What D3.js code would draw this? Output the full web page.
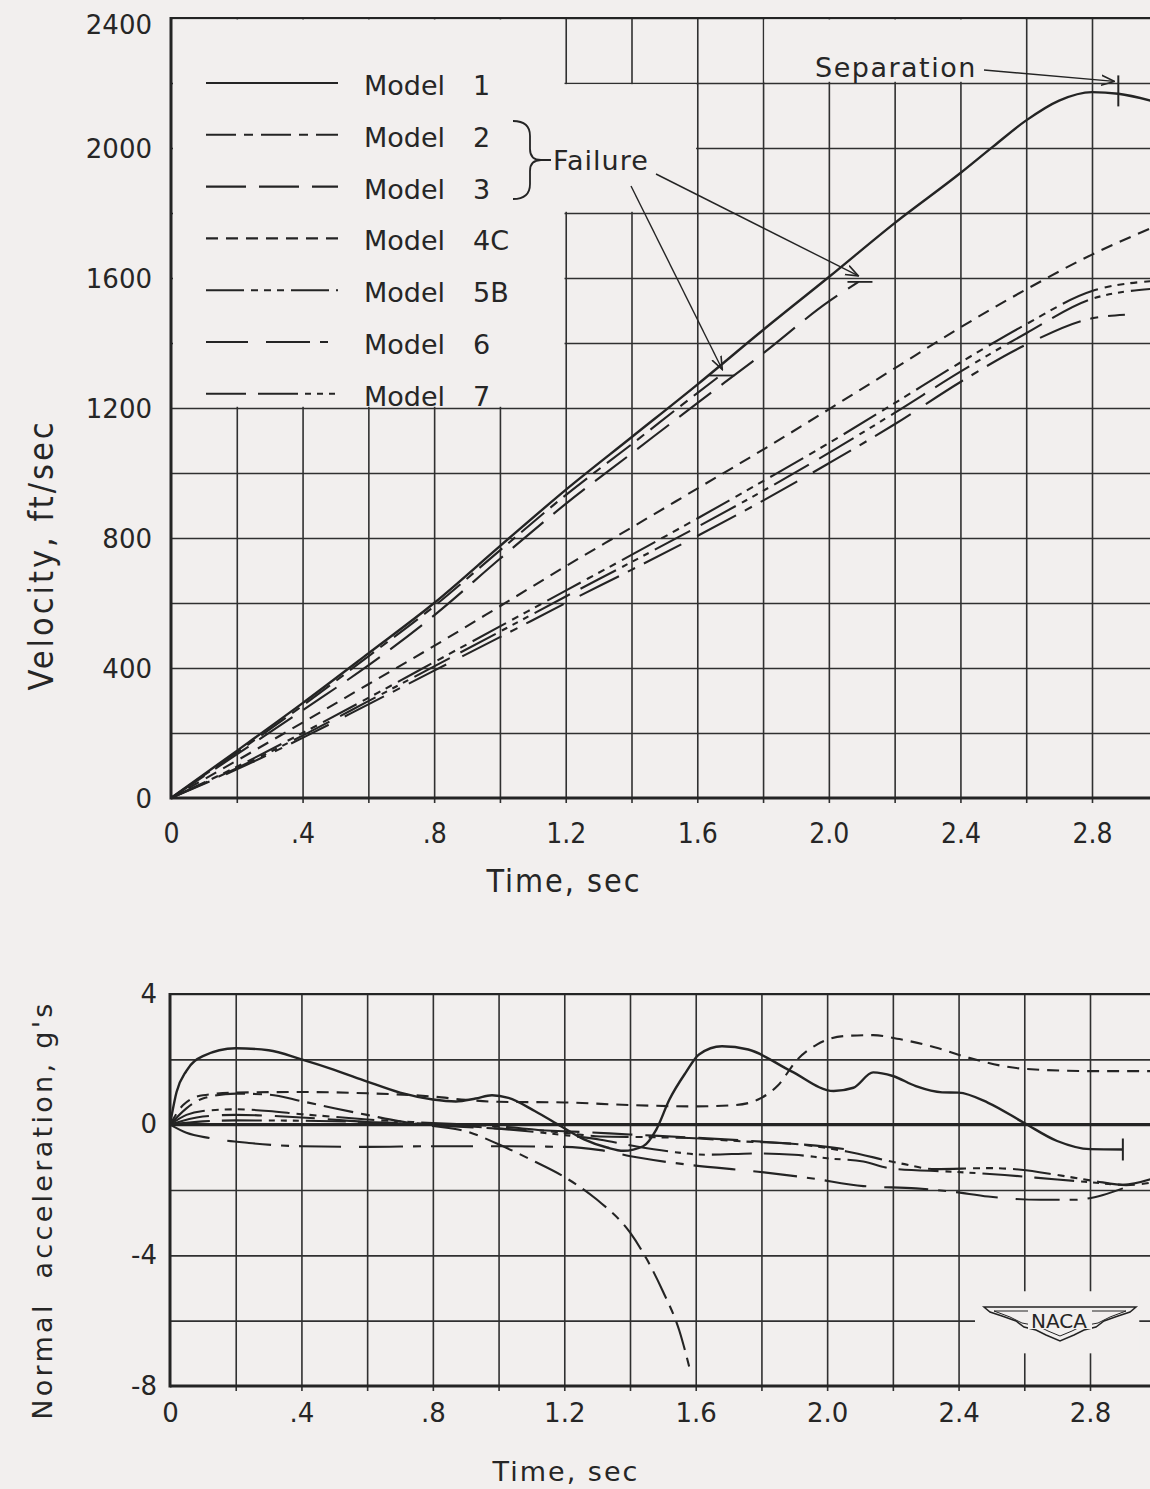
<!DOCTYPE html>
<html>
<head>
<meta charset="utf-8">
<script src="https://cdn.jsdelivr.net/npm/d3@7"></script>
<style>
  html, body { margin: 0; padding: 0; background: #f2efee; }
  svg { display: block; }
  text { fill: #262626; font-family: "DejaVu Sans", sans-serif; }
  .narrow { font-family: "DejaVu Sans Condensed", "DejaVu Sans", sans-serif; font-stretch: condensed; }
</style>
</head>
<body>
<div id="chart"></div>
<script>
/* DATA */
const modelNames = ["Model 1", "Model 2", "Model 3", "Model 4C", "Model 5B", "Model 6", "Model 7"];

const timeTicks = [0, 0.4, 0.8, 1.2, 1.6, 2.0, 2.4, 2.8];
const timeTickLabels = ["0", ".4", ".8", "1.2", "1.6", "2.0", "2.4", "2.8"];
const velTicks = [0, 400, 800, 1200, 1600, 2000, 2400];
const accTicks = [-8, -4, 0, 4];
const accTickLabels = ["-8", "-4", "0", "4"];

// velocity, ft/sec  [time, value]
const velModel1 = [[0,0],[0.2,145],[0.4,292],[0.6,445],[0.8,600],[1.0,775],[1.2,948],[1.4,1110],[1.6,1272],[1.8,1440],[2.0,1603],[2.2,1769],[2.4,1923],[2.5,2005],[2.6,2085],[2.7,2146],[2.8,2172],[2.88,2167],[3.0,2140]];
const velModel2 = [[0,0],[0.2,140],[0.4,284],[0.6,436],[0.8,590],[1.0,762],[1.2,932],[1.4,1088],[1.6,1246],[1.67,1300]];
const velModel3 = [[0,0],[0.2,134],[0.4,270],[0.6,408],[0.8,562],[1.0,736],[1.2,905],[1.4,1060],[1.6,1215],[1.8,1368],[2.0,1528],[2.09,1588]];
const velModel4C = [[0,0],[0.2,115],[0.4,232],[0.6,350],[0.8,468],[1.0,590],[1.2,713],[1.4,832],[1.6,952],[1.8,1072],[2.0,1196],[2.2,1322],[2.4,1448],[2.6,1565],[2.8,1672],[3.0,1762]];
const velModel5B = [[0,0],[0.2,96],[0.4,200],[0.6,308],[0.8,418],[1.0,528],[1.2,638],[1.4,748],[1.6,860],[1.8,975],[2.0,1092],[2.2,1215],[2.4,1340],[2.6,1458],[2.8,1560],[3.0,1592]];
const velModel6 = [[0,0],[0.2,88],[0.4,185],[0.6,288],[0.8,392],[1.0,495],[1.2,600],[1.4,702],[1.6,806],[1.8,915],[2.0,1030],[2.2,1150],[2.4,1280],[2.6,1395],[2.8,1476],[2.9,1487]];
const velModel7 = [[0,0],[0.2,92],[0.4,192],[0.6,298],[0.8,405],[1.0,512],[1.2,620],[1.4,726],[1.6,834],[1.8,945],[2.0,1062],[2.2,1185],[2.4,1312],[2.6,1430],[2.8,1536],[3.0,1568]];

// normal acceleration, g's  [time, value]
const accModel1 = [[0,0],[0.02,1.0],[0.05,1.65],[0.1,2.1],[0.2,2.34],[0.3,2.28],[0.4,2.0],[0.5,1.68],[0.6,1.32],[0.7,0.98],[0.8,0.77],[0.87,0.71],[0.93,0.8],[0.98,0.9],[1.03,0.82],[1.11,0.42],[1.19,-0.05],[1.26,-0.45],[1.33,-0.7],[1.38,-0.8],[1.44,-0.66],[1.48,-0.15],[1.52,0.77],[1.57,1.6],[1.61,2.15],[1.68,2.4],[1.76,2.3],[1.89,1.64],[2.02,1.03],[2.08,1.13],[2.14,1.6],[2.2,1.49],[2.27,1.18],[2.35,0.99],[2.4,0.98],[2.49,0.67],[2.6,0.05],[2.7,-0.5],[2.8,-0.75],[2.9,-0.76]];
const accModel2 = [[0,0],[0.05,0.5],[0.1,0.8],[0.2,0.95],[0.3,0.92],[0.4,0.72],[0.5,0.5],[0.6,0.3],[0.7,0.1],[0.8,-0.04],[0.9,-0.2],[1.0,-0.6],[1.1,-1.08],[1.2,-1.6],[1.3,-2.3],[1.4,-3.3],[1.45,-4.1],[1.5,-5.1],[1.55,-6.3],[1.58,-7.4]];
const accModel3 = [[0,0],[0.1,0.25],[0.2,0.3],[0.4,0.22],[0.6,0.08],[0.8,-0.02],[1.0,-0.12],[1.2,-0.2],[1.4,-0.3],[1.6,-0.4],[1.8,-0.52],[2.0,-0.68],[2.09,-0.8]];
const accModel4C = [[0,0],[0.04,0.6],[0.1,0.9],[0.2,0.98],[0.4,1.0],[0.6,0.96],[0.8,0.86],[0.9,0.76],[1.0,0.7],[1.2,0.68],[1.4,0.6],[1.6,0.56],[1.72,0.6],[1.79,0.77],[1.85,1.2],[1.91,2.0],[1.97,2.46],[2.06,2.72],[2.14,2.74],[2.22,2.62],[2.33,2.36],[2.43,2.05],[2.59,1.72],[2.8,1.64],[3.0,1.64]];
const accModel5B = [[0,0],[0.05,0.3],[0.1,0.42],[0.2,0.47],[0.3,0.42],[0.4,0.32],[0.5,0.24],[0.6,0.16],[0.8,0.05],[1.0,-0.05],[1.2,-0.25],[1.31,-0.36],[1.45,-0.38],[1.58,-0.41],[1.74,-0.51],[1.93,-0.62],[2.06,-0.82],[2.22,-1.18],[2.33,-1.36],[2.49,-1.33],[2.59,-1.38],[2.7,-1.54],[2.81,-1.72],[2.91,-1.85],[3.0,-1.75]];
const accModel6 = [[0,0],[0.05,-0.25],[0.12,-0.41],[0.24,-0.56],[0.4,-0.66],[0.6,-0.68],[0.8,-0.66],[1.0,-0.66],[1.2,-0.68],[1.31,-0.78],[1.42,-1.0],[1.58,-1.23],[1.79,-1.44],[1.95,-1.64],[2.11,-1.88],[2.27,-1.95],[2.38,-2.05],[2.49,-2.2],[2.65,-2.3],[2.75,-2.3],[2.84,-2.15],[2.9,-1.95]];
const accModel7 = [[0,0],[0.1,0.1],[0.2,0.13],[0.4,0.12],[0.6,0.08],[0.8,0.02],[1.0,-0.12],[1.2,-0.32],[1.31,-0.46],[1.42,-0.67],[1.52,-0.82],[1.63,-0.92],[1.79,-0.88],[1.9,-0.92],[2.0,-1.03],[2.11,-1.13],[2.2,-1.35],[2.38,-1.44],[2.54,-1.54],[2.7,-1.68],[2.8,-1.76],[2.9,-1.84],[3.0,-1.62]];

const velSeries = [velModel1, velModel2, velModel3, velModel4C, velModel5B, velModel6, velModel7];
const accSeries = [accModel1, accModel2, accModel3, accModel4C, accModel5B, accModel6, accModel7];

// annotation points (time, value)
const separationPoint = [2.88, 2168];
const failurePoints = [[1.67, 1300], [2.09, 1588]];

/* STYLES */
const ink = "#242424";
const bg = "#f2efee";
const dashes = [null, "30,8,9,8", "40,13", "12,8", "38,7,7,6,7,6,7,7", "42,18,44,10,8,10", "40,12,40,7,6,6,6,6,6,7"];

const W = 1150, H = 1489;
const svg = d3.select("#chart").append("svg").attr("width", W).attr("height", H);

svg.append("defs").append("marker")
  .attr("id", "arrow")
  .attr("viewBox", "0 -6 14 12")
  .attr("refX", 13).attr("refY", 0)
  .attr("markerWidth", 14).attr("markerHeight", 12)
  .attr("markerUnits", "userSpaceOnUse")
  .attr("orient", "auto")
  .append("path")
  .attr("d", "M0,-5L13,0L0,5")
  .attr("fill", "none").attr("stroke", ink).attr("stroke-width", 1.6);

const lineGen = (x, y) => d3.line().x(d => x(d[0])).y(d => y(d[1])).curve(d3.curveMonotoneX);

function gridPanel(g, x, y, yTop, yBottom, vTicks, hTicks) {
  // vertical grid (with little ticks under the axis)
  g.append("g")
    .attr("transform", `translate(0,${yBottom + 5})`)
    .call(d3.axisBottom(x).tickValues(vTicks).tickSize(-(yBottom + 5 - yTop)).tickFormat(""))
    .call(a => a.select(".domain").remove())
    .selectAll("line").attr("stroke", "#303030").attr("stroke-width", 1.6);
  // horizontal grid
  g.append("g")
    .attr("transform", `translate(${x(0)},0)`)
    .call(d3.axisLeft(y).tickValues(hTicks).tickSize(-(W - x(0))).tickFormat(""))
    .call(a => a.select(".domain").remove())
    .selectAll("line").attr("stroke", "#303030").attr("stroke-width", 1.6);
}

function mask(g, x0, y0, x1, y1) {
  g.append("rect").attr("x", x0).attr("y", y0).attr("width", x1 - x0).attr("height", y1 - y0).attr("fill", bg);
}

/* ---------- TOP PANEL: velocity ---------- */
const xV = d3.scaleLinear().domain([0, 2.8]).range([171, 1092]);
const yV = d3.scaleLinear().domain([0, 2400]).range([798, 18]);
const topG = svg.append("g");

gridPanel(topG, xV, yV, yV(2400), yV(0), d3.range(0.2, 3.01, 0.2), d3.range(200, 2401, 200));

// blank areas of the grid paper (legend, "Failure", "Separation")
mask(topG, xV(0) + 2, yV(2400) + 1.5, xV(1.2) - 1.2, yV(1200) - 1.2);
mask(topG, xV(1.1), yV(2200) + 1.2, xV(1.6) - 1.2, yV(1800) - 1.2);
mask(topG, xV(1.8) + 1.2, yV(2400) + 1.5, xV(2.6) - 1.2, yV(2200) - 1.2);

// frame
topG.append("line").attr("x1", xV(0)).attr("x2", W).attr("y1", yV(2400)).attr("y2", yV(2400)).attr("stroke", ink).attr("stroke-width", 2.2);
topG.append("line").attr("x1", xV(0)).attr("x2", W).attr("y1", yV(0)).attr("y2", yV(0)).attr("stroke", ink).attr("stroke-width", 3.2);
topG.append("line").attr("x1", xV(0)).attr("x2", xV(0)).attr("y1", yV(2400) - 1).attr("y2", yV(0) + 1.5).attr("stroke", ink).attr("stroke-width", 3);

// axes labels
topG.append("g")
  .attr("transform", `translate(0,${yV(0)})`)
  .call(d3.axisBottom(xV).tickValues(timeTicks).tickSize(0).tickPadding(25).tickFormat((d, i) => timeTickLabels[i]))
  .call(a => a.select(".domain").remove())
  .selectAll("text").attr("class", "narrow").style("font-size", "28px");

topG.append("g")
  .attr("transform", `translate(${xV(0)},0)`)
  .call(d3.axisLeft(yV).tickValues(velTicks).tickSize(0).tickPadding(19).tickFormat(d3.format("d")))
  .call(a => a.select(".domain").remove())
  .selectAll("text").style("font-size", "26px")
  .attr("dy", d => d === 2400 ? "0.6em" : "0.35em");

topG.append("text").attr("class", "narrow")
  .attr("x", 564).attr("y", 892).attr("text-anchor", "middle")
  .style("font-size", "32px").style("letter-spacing", "2px").text("Time, sec");

topG.append("text").attr("class", "narrow")
  .attr("transform", "translate(53,555) rotate(-90)").attr("text-anchor", "middle")
  .style("font-size", "34px").style("letter-spacing", "3px").text("Velocity, ft/sec");

// curves
const lineV = lineGen(xV, yV);
topG.append("clipPath").attr("id", "clipTop").append("rect")
  .attr("x", xV(0)).attr("y", 0).attr("width", W - xV(0)).attr("height", yV(0));
topG.append("g").attr("clip-path", "url(#clipTop)")
  .selectAll("path").data(velSeries).join("path")
  .attr("d", d => lineV(d))
  .attr("fill", "none").attr("stroke", ink)
  .attr("stroke-width", (d, i) => i === 0 ? 2.4 : 2.1)
  .attr("stroke-dasharray", (d, i) => dashes[i]);

// legend
const legend = topG.append("g");
modelNames.forEach((name, i) => {
  const ly = 83 + i * 51.8;
  legend.append("line").attr("x1", 206).attr("x2", 338).attr("y1", ly).attr("y2", ly)
    .attr("stroke", ink).attr("stroke-width", 2.1).attr("stroke-dasharray", dashes[i]);
  const parts = name.split(" ");
  const t = legend.append("text").attr("y", ly + 12).style("font-size", "27px");
  t.append("tspan").attr("x", 364).text(parts[0] + " ");
  t.append("tspan").attr("x", 473).text(parts[1]);
});

// "Failure" bracket and label
topG.append("path")
  .attr("d", "M513,121 Q530,121 530,136 L530,149 Q530,160 541,160 Q530,160 530,171 L530,184 Q530,199 513,199 M541,160 L551,160")
  .attr("fill", "none").attr("stroke", ink).attr("stroke-width", 1.8);
topG.append("text").attr("x", 553).attr("y", 170).style("font-size", "27px").style("letter-spacing", "1px").text("Failure");

topG.append("line")
  .attr("x1", 631).attr("y1", 186).attr("x2", xV(failurePoints[0][0]) + 2).attr("y2", yV(failurePoints[0][1]) - 6)
  .attr("stroke", ink).attr("stroke-width", 1.4).attr("marker-end", "url(#arrow)");
topG.append("line")
  .attr("x1", 656).attr("y1", 174).attr("x2", xV(failurePoints[1][0])).attr("y2", yV(failurePoints[1][1]) - 6)
  .attr("stroke", ink).attr("stroke-width", 1.4).attr("marker-end", "url(#arrow)");
failurePoints.forEach(p => {
  topG.append("line").attr("x1", xV(p[0]) - 11).attr("x2", xV(p[0]) + 14)
    .attr("y1", yV(p[1])).attr("y2", yV(p[1])).attr("stroke", ink).attr("stroke-width", 1.8);
});

// "Separation"
topG.append("text").attr("x", 815).attr("y", 77).style("font-size", "27px").style("letter-spacing", "1.5px").text("Separation");
topG.append("line")
  .attr("x1", 984).attr("y1", 70).attr("x2", xV(separationPoint[0]) - 4).attr("y2", yV(separationPoint[1]) - 12)
  .attr("stroke", ink).attr("stroke-width", 1.4).attr("marker-end", "url(#arrow)");
topG.append("line")
  .attr("x1", xV(separationPoint[0])).attr("x2", xV(separationPoint[0]))
  .attr("y1", yV(separationPoint[1]) - 18).attr("y2", yV(separationPoint[1]) + 13)
  .attr("stroke", ink).attr("stroke-width", 2);

/* ---------- BOTTOM PANEL: normal acceleration ---------- */
const xA = d3.scaleLinear().domain([0, 2.8]).range([170, 1090]);
const yA = d3.scaleLinear().domain([-8, 4]).range([1386, 994]);
const botG = svg.append("g");

gridPanel(botG, xA, yA, yA(4), yA(-8), d3.range(0.2, 3.01, 0.2), d3.range(-6, 4.01, 2));

// NACA emblem area
mask(botG, xA(2.45), yA(-5.1), xA(2.95), yA(-7.0));

botG.append("line").attr("x1", xA(0)).attr("x2", W).attr("y1", yA(4)).attr("y2", yA(4)).attr("stroke", ink).attr("stroke-width", 2.2);
botG.append("line").attr("x1", xA(0)).attr("x2", W).attr("y1", yA(0)).attr("y2", yA(0)).attr("stroke", ink).attr("stroke-width", 3.2);
botG.append("line").attr("x1", xA(0)).attr("x2", W).attr("y1", yA(-8)).attr("y2", yA(-8)).attr("stroke", ink).attr("stroke-width", 3.2);
botG.append("line").attr("x1", xA(0)).attr("x2", xA(0)).attr("y1", yA(4) - 1).attr("y2", yA(-8) + 1.5).attr("stroke", ink).attr("stroke-width", 3);

botG.append("g")
  .attr("transform", `translate(0,${yA(-8)})`)
  .call(d3.axisBottom(xA).tickValues(timeTicks).tickSize(0).tickPadding(18).tickFormat((d, i) => timeTickLabels[i]))
  .call(a => a.select(".domain").remove())
  .selectAll("text").style("font-size", "26px");

botG.append("g")
  .attr("transform", `translate(${xA(0)},0)`)
  .call(d3.axisLeft(yA).tickValues(accTicks).tickSize(0).tickPadding(13).tickFormat((d, i) => accTickLabels[i]))
  .call(a => a.select(".domain").remove())
  .selectAll("text").style("font-size", "26px");

botG.append("text")
  .attr("x", 566).attr("y", 1481).attr("text-anchor", "middle")
  .style("font-size", "27px").style("letter-spacing", "2px").text("Time, sec");

botG.append("text")
  .attr("transform", "translate(52,1210) rotate(-90)").attr("text-anchor", "middle")
  .style("font-size", "27px").style("letter-spacing", "3.3px").style("white-space", "pre")
  .text("Normal  acceleration, g's");

const lineA = lineGen(xA, yA);
botG.append("clipPath").attr("id", "clipBot").append("rect")
  .attr("x", xA(0)).attr("y", yA(4)).attr("width", W - xA(0)).attr("height", yA(-8) - yA(4));
botG.append("g").attr("clip-path", "url(#clipBot)")
  .selectAll("path").data(accSeries).join("path")
  .attr("d", d => lineA(d))
  .attr("fill", "none").attr("stroke", ink)
  .attr("stroke-width", (d, i) => i === 0 ? 2.4 : 2.1)
  .attr("stroke-dasharray", (d, i) => dashes[i]);

// end mark of Model 1 trace
const endA = accModel1[accModel1.length - 1];
botG.append("line").attr("x1", xA(endA[0])).attr("x2", xA(endA[0]))
  .attr("y1", yA(endA[1]) - 11).attr("y2", yA(endA[1]) + 11)
  .attr("stroke", ink).attr("stroke-width", 2);

// NACA emblem
const cx = 1060, cy = 1322;
const wing = `M${cx-76},${cy-15} L${cx+76},${cy-15} L${cx+70},${cy-10} L${cx+58},${cy-6} L${cx+44},${cy-1} L${cx+36},${cy+5} L${cx+24},${cy+8} L${cx+14},${cy+13} L${cx},${cy+19} L${cx-14},${cy+13} L${cx-24},${cy+8} L${cx-36},${cy+5} L${cx-44},${cy-1} L${cx-58},${cy-6} L${cx-70},${cy-10} Z`;
const wingIn = `M${cx-66},${cy-11} L${cx+66},${cy-11} L${cx+50},${cy-5} L${cx+38},${cy+1} L${cx+22},${cy+4} L${cx+12},${cy+9} L${cx},${cy+14} L${cx-12},${cy+9} L${cx-22},${cy+4} L${cx-38},${cy+1} L${cx-50},${cy-5} Z`;
botG.append("path").attr("d", wing).attr("fill", "none").attr("stroke", ink).attr("stroke-width", 1.5);
botG.append("path").attr("d", wingIn).attr("fill", "none").attr("stroke", ink).attr("stroke-width", 1);
botG.append("rect").attr("x", cx - 32).attr("y", cy - 13).attr("width", 64).attr("height", 20).attr("fill", bg);
botG.append("text").attr("x", cx - 1).attr("y", cy + 6).attr("text-anchor", "middle")
  .style("font-size", "20px").text("NACA");
</script>
</body>
</html>
